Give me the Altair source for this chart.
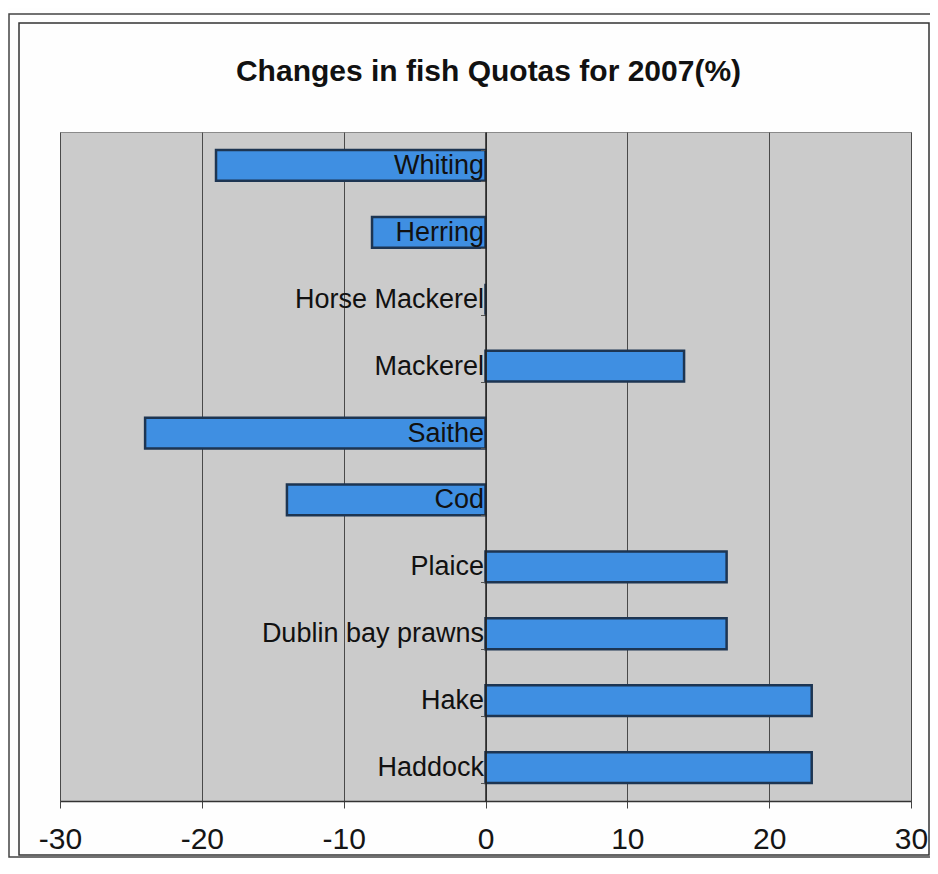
import altair as alt
import pandas as pd

# ---- data ----
fish = ["Whiting", "Herring", "Horse Mackerel", "Mackerel", "Saithe", "Cod",
        "Plaice", "Dublin bay prawns", "Hake", "Haddock"]
change = [-19, -8, 0, 14, -24, -14, 17, 17, 23, 23]
x_ticks = [-30, -20, -10, 0, 10, 20, 30]
title_text = ["Changes in fish Quotas for 2007(%)"]

df = pd.DataFrame({"fish": fish, "change": change})

W, H = 851, 669
FONT = "Liberation Sans"

bars = alt.Chart(df).mark_bar(
    fill="#3f8fe2", stroke="#1d3552", strokeWidth=2.5
).encode(
    x=alt.X("change:Q",
            scale=alt.Scale(domain=[-30, 30], nice=False, zero=False),
            axis=alt.Axis(values=x_ticks, title=None, grid=True,
                          gridColor="#4a4a4a", gridWidth=1,
                          domainColor="#333", domainWidth=1.5,
                          tickColor="#444", tickSize=7,
                          labelExpr="datum.value < 0 ? '-' + abs(datum.value) : '' + datum.value",
                          labelFont=FONT, labelFontSize=30, labelColor="#151515",
                          labelPadding=16, labelFlush=False)),
    y=alt.Y("fish:N", sort=fish,
            scale=alt.Scale(paddingInner=0.54, paddingOuter=0.27),
            axis=alt.Axis(orient="left", offset=-425.5, title=None, grid=False,
                          tickBand="extent", domainColor="#222", domainWidth=1.5,
                          tickColor="#555", tickSize=5,
                          labelFont=FONT, labelFontSize=27, labelColor="#111",
                          labelPadding=-3, labelLimit=500, zindex=1)),
)

title = alt.Chart(pd.DataFrame({"t": title_text})).mark_text(
    font=FONT, fontSize=30, fontWeight="bold", color="#111",
    align="center", baseline="alphabetic"
).encode(text="t:N", x=alt.value(428.5), y=alt.value(-51))

inner = alt.Chart(pd.DataFrame({"k": ["inner"]})).mark_rect(
    fill=None, stroke="#333", strokeWidth=1.5
).encode(x=alt.value(-41), x2=alt.value(869), y=alt.value(-109), y2=alt.value(723))
outer = alt.Chart(pd.DataFrame({"k": ["outer"]})).mark_rect(
    fill=None, stroke="#444", strokeWidth=1.5
).encode(x=alt.value(-51), x2=alt.value(872), y=alt.value(-118), y2=alt.value(725))

chart = alt.layer(bars, title, inner, outer).properties(
    width=W, height=H,
    autosize=alt.AutoSizeParams(type="none"),
    padding={"left": 52, "top": 124, "right": 19, "bottom": 57},
    background="#fefefe",
).configure_view(fill="#cbcbcb", stroke="#8a8a8a", strokeWidth=1)

chart.save("out.html", embed_options={"renderer": "svg", "actions": False})
